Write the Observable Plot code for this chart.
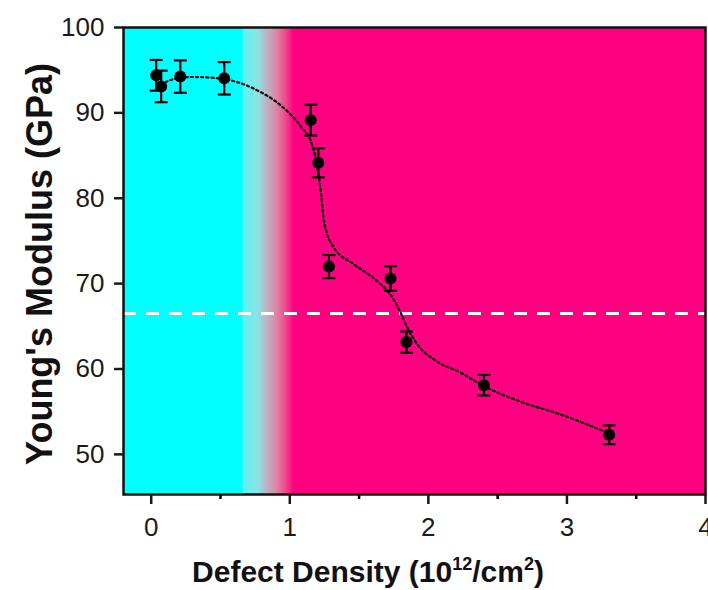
<!DOCTYPE html>
<html><head><meta charset="utf-8">
<script src="https://cdn.jsdelivr.net/npm/d3@7"></script>
<script src="https://cdn.jsdelivr.net/npm/@observablehq/plot@0.6"></script>
<style>
body{margin:0;background:#fff}
svg{font-family:"Liberation Sans",Arial,sans-serif}
</style>
</head><body><div id="chart"></div>
<script>
// Measured points (defect density in 10^12/cm^2, Young's modulus in GPa, error)
const density = [0.036, 0.072, 0.21, 0.527, 1.151, 1.206, 1.283, 1.727, 1.842, 2.401, 3.305];
const modulus = [94.4, 93.1, 94.25, 94.05, 89.15, 84.15, 72.0, 70.6, 63.15, 58.1, 52.3];
const modErr  = [1.8, 1.85, 1.9, 1.9, 1.8, 1.7, 1.35, 1.45, 1.25, 1.2, 1.1];
// Dotted guide curve
const fitX = [0.07, 0.15, 0.29, 0.45, 0.6, 0.77, 0.94, 1.08, 1.16, 1.20, 1.225, 1.25, 1.32, 1.46, 1.63, 1.74, 1.80, 1.85, 1.92, 2.06, 2.23, 2.40, 2.66, 2.95, 3.30];
const fitY = [93.3, 93.9, 94.2, 94.1, 93.7, 92.6, 90.8, 88.4, 86.3, 83.6, 80.5, 77.0, 74.2, 72.3, 70.3, 68.4, 66.6, 64.8, 62.9, 60.9, 59.6, 58.0, 56.2, 54.7, 52.5];
const thresholdY = [66.5];
const blendRange = [0.66, 1.03];
const xTicks = [0, 1, 2, 3, 4];
const xMinorTicks = [0.5, 1.5, 2.5, 3.5];
const yTicks = [50, 60, 70, 80, 90, 100];

const points = density.map((x, i) => ({x, y: modulus[i], lo: modulus[i] - modErr[i], hi: modulus[i] + modErr[i]}));
const fit = fitX.map((x, i) => ({x, y: fitY[i]}));

const capSymbol = {draw(ctx) { ctx.moveTo(-6.5, 0); ctx.lineTo(6.5, 0); }};

function background(index, scales, values, dims) {
  const g = d3.create("svg:g");
  const x = scales.x;
  const grad = g.append("defs").append("linearGradient")
    .attr("id", "bgGrad").attr("gradientUnits", "userSpaceOnUse")
    .attr("x1", x(blendRange[0])).attr("x2", x(blendRange[1])).attr("y1", 0).attr("y2", 0);
  [[0, "#00ffff"], [0.02, "#60f2f2"], [0.3, "#8ae4e4"], [0.47, "#bcb4c4"], [0.66, "#dc88a8"], [0.85, "#f2468a"], [1, "#ff0080"]]
    .forEach(([o, c]) => grad.append("stop").attr("offset", o).attr("stop-color", c));
  g.append("rect")
    .attr("x", dims.marginLeft).attr("y", dims.marginTop)
    .attr("width", dims.width - dims.marginLeft - dims.marginRight)
    .attr("height", dims.height - dims.marginTop - dims.marginBottom)
    .attr("fill", "url(#bgGrad)");
  return g.node();
}

const chart = Plot.plot({
  width: 708, height: 590,
  marginLeft: 123, marginRight: 3, marginTop: 27, marginBottom: 96,
  x: {domain: [-0.2, 4]},
  y: {domain: [45.3, 100]},
  style: {background: "white", fontFamily: "Liberation Sans, Arial, sans-serif"},
  marks: [
    background,
    Plot.ruleY(thresholdY, {stroke: "white", strokeWidth: 3, strokeDasharray: "13 10"}),
    Plot.line(fit, {x: "x", y: "y", curve: "monotone-x", stroke: "black", strokeWidth: 2.2, strokeDasharray: "2.2 3"}),
    Plot.ruleX(points, {x: "x", y1: "lo", y2: "hi", stroke: "black", strokeWidth: 2.2}),
    Plot.dot(points, {x: "x", y: "lo", symbol: capSymbol, fill: "none", stroke: "black", strokeWidth: 2.2}),
    Plot.dot(points, {x: "x", y: "hi", symbol: capSymbol, fill: "none", stroke: "black", strokeWidth: 2.2}),
    Plot.dot(points, {x: "x", y: "y", r: 6, fill: "black", stroke: "none"}),
    Plot.frame({stroke: "#111", strokeWidth: 2.5}),
    Plot.axisX({ticks: xTicks, tickSize: 10, tickPadding: 13, fontSize: 26, label: null, strokeWidth: 2.5, color: "#1a1a1a", tickFormat: d => String(d)}),
    Plot.axisX({ticks: xMinorTicks, tickSize: 5, label: null, strokeWidth: 2.5, tickFormat: () => ""}),
    Plot.axisY({ticks: yTicks, tickSize: 9, tickPadding: 10, fontSize: 26, label: null, strokeWidth: 2.5, color: "#1a1a1a"})
  ]
});

const svg = d3.select(chart);
svg.append("text")
  .attr("transform", "translate(39,264) rotate(-90)")
  .attr("text-anchor", "middle").attr("dominant-baseline", "central")
  .attr("font-weight", "bold").attr("font-size", 36).attr("fill", "#111")
  .text("Young's Modulus (GPa)");
const xt = svg.append("text")
  .attr("x", 368).attr("y", 582).attr("text-anchor", "middle")
  .attr("font-weight", "bold").attr("font-size", 30).attr("fill", "#111");
xt.append("tspan").text("Defect Density (10");
xt.append("tspan").attr("font-size", 18).attr("dy", -12).text("12");
xt.append("tspan").attr("dy", 12).text("/cm");
xt.append("tspan").attr("font-size", 18).attr("dy", -12).text("2");
xt.append("tspan").attr("dy", 12).text(")");

document.getElementById("chart").appendChild(chart);
</script>
</body></html>
